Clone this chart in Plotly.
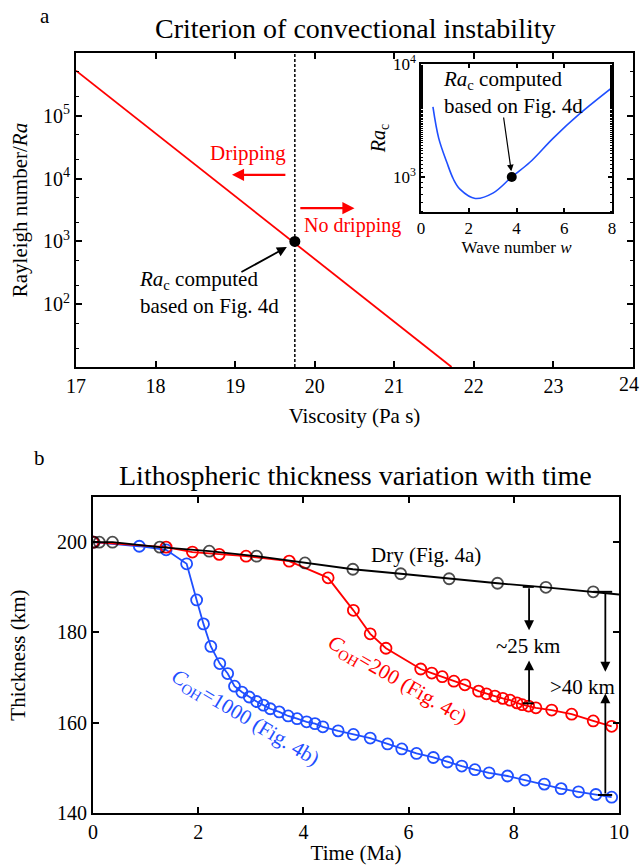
import plotly.graph_objects as go

# ---------------- Panel a data ----------------
visc = [17.0, 21.72]                 # viscosity (log10 Pa s)
ra_line = [5.25e5, 10.0]             # Rayleigh number
visc_c = [19.75]
ra_c = [1000]

# inset: critical Rayleigh number vs wave number
wave = [0.5, 0.74, 1.08, 1.36, 1.64, 2.27, 3.03, 3.8, 4.56, 5.54, 6.65, 8.0]
ra_wave = [4170, 2210, 1350, 955, 776, 646, 724, 1000, 1350, 2210, 3630, 6170]
wave_c = [3.8]
ra_wave_c = [1000]

# ---------------- Panel b data ----------------
t_dry = [0.02, 0.12, 0.37, 1.27, 2.21, 3.11, 4.03, 4.94, 5.85, 6.77, 7.69, 8.61, 9.51, 10.0]
th_dry = [200.0, 200.0, 200.0, 198.9, 198.0, 196.9, 195.4, 194.0, 193.0, 191.9, 190.9, 190.0, 189.0, 188.4]
dry_marker_sizes = [11] * 13 + [0]

t_200 = [0, 1.39, 1.89, 2.40, 2.91, 3.73, 4.47, 4.95, 5.27, 5.57, 6.23, 6.44, 6.64, 6.86,
         7.07, 7.33, 7.48, 7.64, 7.79, 7.93, 8.06, 8.16, 8.28, 8.42, 8.72, 9.10, 9.51, 9.86]
th_200 = [200, 198.9, 197.8, 197.3, 196.9, 195.8, 192.1, 184.9, 179.7, 176.5, 171.9, 171.0, 170.2, 169.2,
          168.4, 167.0, 166.4, 165.9, 165.4, 165.0, 164.4, 164.0, 163.7, 163.3, 162.8, 161.9, 160.4, 159.2]

t_1000 = [0, 0.88, 1.39, 1.78, 1.97, 2.10, 2.24, 2.41, 2.56, 2.69, 2.83, 2.97, 3.11, 3.24, 3.37,
          3.54, 3.71, 3.88, 4.06, 4.22, 4.37, 4.66, 4.95, 5.27, 5.60, 5.87, 6.15, 6.47, 6.74,
          7.01, 7.26, 7.53, 7.88, 8.21, 8.58, 8.90, 9.23, 9.56, 9.86]
th_1000 = [200, 199.1, 198.3, 195.2, 187.2, 181.9, 176.9, 173.1, 170.9, 168.1, 166.8, 165.7, 164.7, 163.9, 163.1,
           162.4, 161.5, 160.9, 160.2, 159.8, 159.1, 158.2, 157.4, 156.6, 155.3, 154.2, 153.2, 152.3, 151.3,
           150.4, 149.6, 148.9, 148.2, 147.3, 146.4, 145.4, 144.7, 144.1, 143.5]

RED = "#ff0000"
BLUE = "#1f4fff"
FONT = "Liberation Serif"

fig = go.Figure()

# Panel a
fig.add_trace(go.Scatter(x=visc, y=ra_line, mode="lines", line=dict(color=RED, width=1.8),
                         xaxis="x", yaxis="y", showlegend=False))
fig.add_trace(go.Scatter(x=visc_c, y=ra_c, mode="markers", marker=dict(color="black", size=11),
                         xaxis="x", yaxis="y", showlegend=False))
# Inset
fig.add_trace(go.Scatter(x=wave, y=ra_wave, mode="lines", line=dict(color=BLUE, width=1.6, shape="spline"),
                         xaxis="x3", yaxis="y3", showlegend=False))
fig.add_trace(go.Scatter(x=wave_c, y=ra_wave_c, mode="markers", marker=dict(color="black", size=10),
                         xaxis="x3", yaxis="y3", showlegend=False))

# Panel b
mk = dict(symbol="circle-open", size=11, line=dict(width=1.8))
fig.add_trace(go.Scatter(x=t_1000, y=th_1000, mode="lines+markers", line=dict(color=BLUE, width=1.8),
                         marker=dict(mk, color=BLUE), xaxis="x2", yaxis="y2", showlegend=False))
fig.add_trace(go.Scatter(x=t_200, y=th_200, mode="lines+markers", line=dict(color=RED, width=1.8),
                         marker=dict(mk, color=RED), xaxis="x2", yaxis="y2", showlegend=False))
fig.add_trace(go.Scatter(x=t_dry, y=th_dry, mode="lines+markers", line=dict(color="black", width=1.8),
                         marker=dict(symbol="circle-open", size=dry_marker_sizes, color="black",
                                     line=dict(width=1.8, color="black")),
                         xaxis="x2", yaxis="y2", showlegend=False))

axis_common = dict(showline=True, linecolor="black", linewidth=2, mirror="allticks",
                   ticks="inside", ticklen=6, tickwidth=1.5, tickcolor="black",
                   showgrid=False, zeroline=False, automargin=False,
                   tickfont=dict(family=FONT, size=20, color="black"))

fig.update_layout(
    width=641, height=865,
    margin=dict(l=0, r=0, t=0, b=0, autoexpand=False),
    paper_bgcolor="white", plot_bgcolor="white",
    font=dict(family=FONT, color="black"),
    xaxis=dict(axis_common, domain=[0.1186, 0.9875], anchor="y", range=[17, 24], dtick=1,
               title=dict(text="Viscosity (Pa s)", font=dict(family=FONT, size=21), standoff=12)),
    yaxis=dict(axis_common, domain=[0.5757, 0.9387], anchor="x", type="log", range=[1, 6],
               tickvals=[1e2, 1e3, 1e4, 1e5],
               ticktext=["10<sup>2</sup>", "10<sup>3</sup>", "10<sup>4</sup>", "10<sup>5</sup>"],
               minor=dict(ticks="inside", ticklen=3, tickcolor="black", tickwidth=1),
               title=dict(text="Rayleigh number/<i>Ra</i>", font=dict(family=FONT, size=21), standoff=10)),
    xaxis3=dict(axis_common, domain=[0.6568, 0.9548], anchor="y3", range=[0, 8], dtick=2, ticklen=4,
                tickfont=dict(family=FONT, size=17, color="black"), linewidth=1.5,
                title=dict(text="Wave number <i>w</i>", font=dict(family=FONT, size=17), standoff=0)),
    yaxis3=dict(axis_common, domain=[0.7549, 0.9260], anchor="x3", type="log", range=[2.69, 4.0],
                tickvals=[1e3, 1e4], ticktext=["10<sup>3</sup>", "10<sup>4</sup>"], ticklen=4,
                tickfont=dict(family=FONT, size=17, color="black"), linewidth=1.5,
                minor=dict(ticks="inside", ticklen=2.5, tickcolor="black", tickwidth=1),
                title=dict(text="<i>Ra</i><sub>c</sub>", font=dict(family=FONT, size=20), standoff=2)),
    xaxis2=dict(axis_common, domain=[0.1451, 0.9657], anchor="y2", range=[0, 10], dtick=2,
                title=dict(text="Time (Ma)", font=dict(family=FONT, size=21), standoff=4)),
    yaxis2=dict(axis_common, domain=[0.0601, 0.4254], anchor="x2", range=[140, 210],
                tickvals=[140, 160, 180, 200],
                title=dict(text="Thickness (km)", font=dict(family=FONT, size=21), standoff=26)),
)

# dashed vertical line
fig.add_shape(type="line", xref="x", yref="y domain", x0=19.75, x1=19.75, y0=0, y1=1,
              line=dict(color="black", width=1.5, dash="3px,2px"))

ann = []
def txt(text, x, y, xref="paper", yref="paper", size=21, color="black", xanchor="center", **kw):
    ann.append(dict(text=text, x=x, y=y, xref=xref, yref=yref, showarrow=False,
                    xanchor=xanchor, yanchor="middle",
                    font=dict(family=FONT, size=size, color=color), **kw))

def arrow(x, y, ax, ay, xref, yref, color="black", width=1.8):
    ann.append(dict(text="", x=x, y=y, ax=ax, ay=ay, xref=xref, yref=yref, axref=xref, ayref=yref,
                    showarrow=True, arrowhead=2, arrowsize=1.1, arrowwidth=width, arrowcolor=color))

# panel labels and titles
txt("a", 0.070, 0.981, size=21)
txt("Criterion of convectional instability", 0.554, 0.967, size=28)
txt("b", 0.062, 0.4705, size=21)
txt("Lithospheric thickness variation with time", 0.555, 0.450, size=28)
# last tick label of panel a sits on the figure edge
txt("24", 1.0, 0.5555, xref="paper", yref="paper", size=20, xanchor="right")

# panel a annotations
txt("Dripping", 19.16, 4.41, xref="x", yref="y", size=21, color=RED)
arrow(18.96, 4.06, 19.65, 4.06, "x", "y", color=RED, width=2.2)
txt("No dripping", 20.47, 3.25, xref="x", yref="y", size=20, color=RED)
arrow(20.50, 3.53, 19.80, 3.53, "x", "y", color=RED, width=2.2)
txt("<i>Ra</i><sub>c</sub> computed<br>based on Fig. 4d", 17.77, 2.18, xref="x", yref="y", size=21,
    xanchor="left", align="left")
arrow(19.65, 2.91, 19.06, 2.50, "x", "y")

# inset annotation
txt("<i>Ra</i><sub>c</sub> computed<br>based on Fig. 4d", 0.84, 3.75, xref="x3", yref="y3", size=21,
    xanchor="left", align="left")
arrow(3.78, 3.05, 3.45, 3.54, "x3", "y3", width=1.2)

# panel b annotations
txt("Dry (Fig. 4a)", 6.33, 197.1, xref="x2", yref="y2", size=21)
txt("<i>C</i><sub>OH</sub>=1000 (Fig. 4b)", 2.89, 161.0, xref="x2", yref="y2", size=21, color=BLUE,
    textangle=31)
txt("<i>C</i><sub>OH</sub>=200 (Fig. 4c)", 5.78, 169.4, xref="x2", yref="y2", size=21, color=RED,
    textangle=30)
txt("~25 km", 8.27, 176.9, xref="x2", yref="y2", size=21)
txt(">40 km", 9.30, 167.9, xref="x2", yref="y2", size=21)
arrow(8.29, 180.5, 8.29, 190.1, "x2", "y2")
arrow(8.29, 173.8, 8.29, 164.3, "x2", "y2")
arrow(9.74, 171.3, 9.74, 189.0, "x2", "y2")
arrow(9.74, 166.5, 9.74, 144.0, "x2", "y2")
for (xa, xb, yy) in [(8.17, 8.38, 190.1), (8.17, 8.38, 164.3), (9.51, 9.87, 189.0), (9.60, 9.87, 144.0)]:
    fig.add_shape(type="line", xref="x2", yref="y2", x0=xa, x1=xb, y0=yy, y1=yy,
                  line=dict(color="black", width=2))

fig.update_layout(annotations=ann)
fig.write_html("out.html", config={"displayModeBar": False},
               post_script="document.body.style.margin='0';document.body.style.padding='0';")
